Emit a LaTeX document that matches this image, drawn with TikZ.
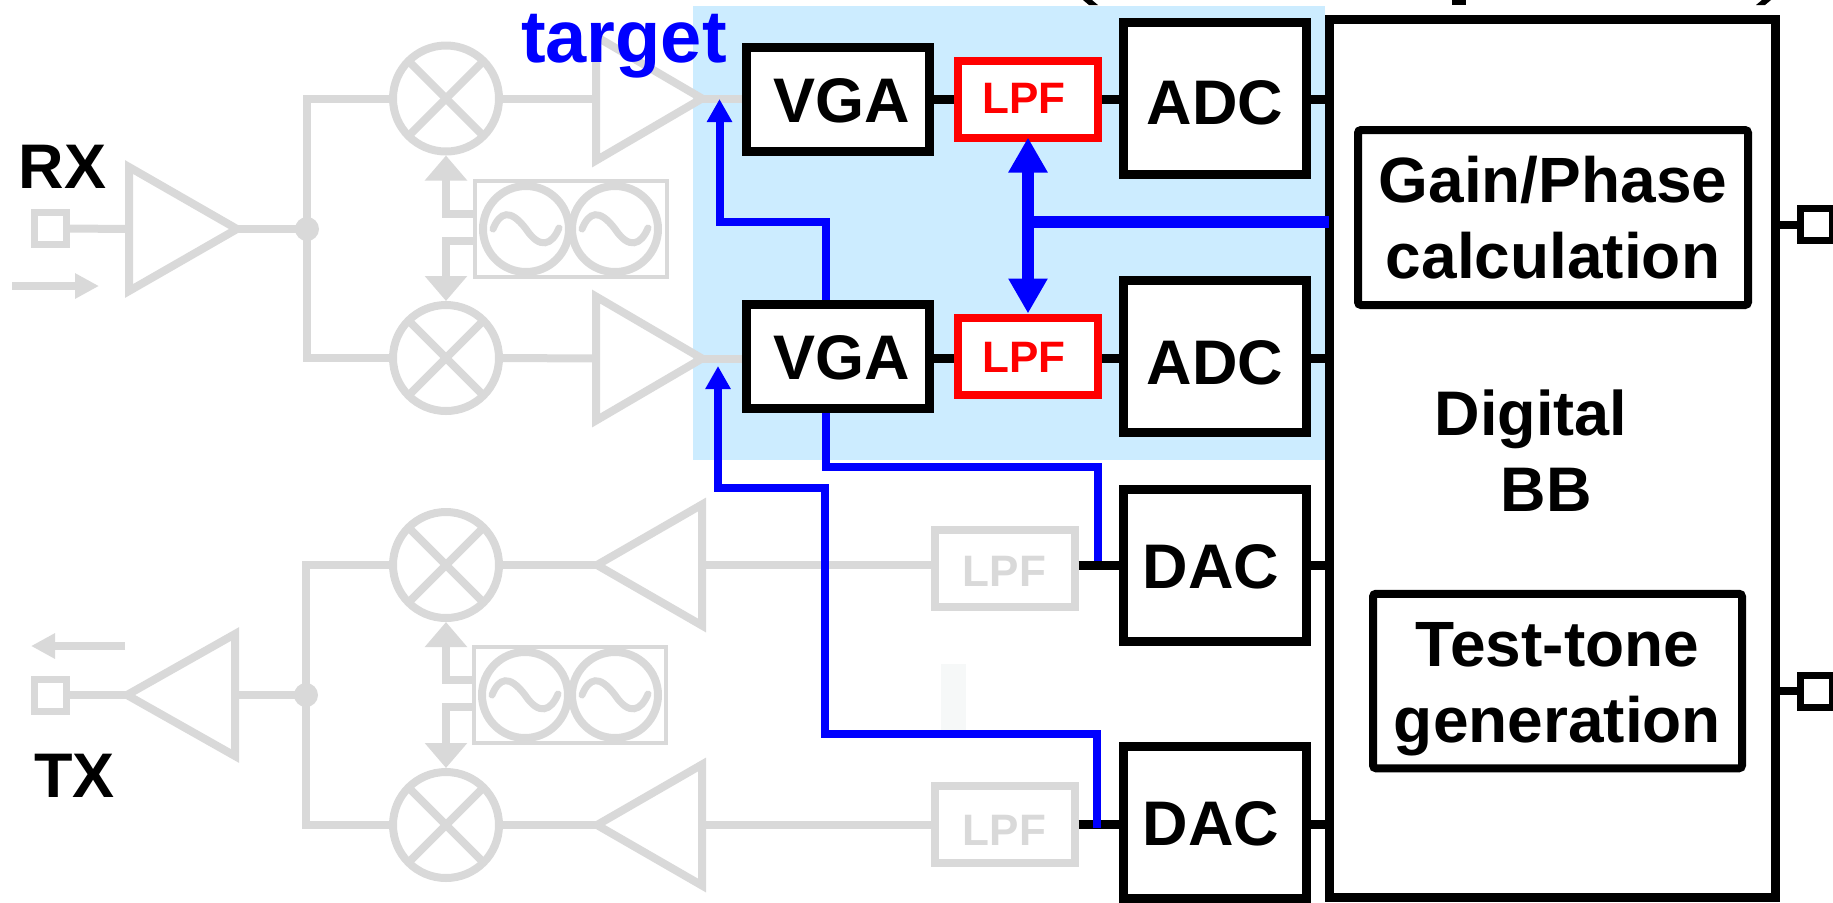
\documentclass[tikz,border=0pt]{standalone}
\usepackage{fontspec}
\setmainfont{Liberation Sans}
\usetikzlibrary{arrows.meta, shapes.geometric}
\definecolor{fadegray}{RGB}{217,217,217}
\definecolor{regionblue}{RGB}{204,236,255}
\definecolor{faintmark}{RGB}{246,248,248}

\begin{document}
\begin{tikzpicture}[x=0.5pt, y=-0.5pt,
    bigfont/.style={font=\fontsize{31.5}{38}\selectfont\bfseries},
    dspfont/.style={font=\fontsize{32}{38}\selectfont\bfseries},
    lpffont/.style={font=\fontsize{22}{26}\selectfont\bfseries},
    blockbox/.style={draw=black, fill=white, line width=4.5pt, inner sep=0pt, bigfont, text height=23pt, text depth=0pt},
    vgabox/.style={blockbox, minimum width=91.5pt, minimum height=52pt},
    cvtbox/.style={blockbox, minimum width=91.5pt, minimum height=76pt},
    lpfbox/.style={draw=red, text=red, fill=white, line width=4pt, inner sep=0pt, lpffont, minimum width=70pt, minimum height=38.5pt, text height=16pt, text depth=0pt},
    lpfgray/.style={lpfbox, draw=fadegray, text=fadegray},
    dspbox/.style={draw=black, fill=white, line width=4pt, rounded corners=1.5pt, inner sep=0pt, dspfont, align=center},
    padbox/.style={draw, fill=white, line width=3.5pt, inner sep=0pt, minimum size=16pt},
    graywire/.style={draw=fadegray, line width=4pt},
    blackwire/.style={draw=black, line width=4.5pt},
    ctrlwire/.style={draw=blue, line width=4pt},
    buswire/.style={draw=blue, line width=6pt},
    amp/.style={isosceles triangle, isosceles triangle stretches, draw=fadegray, line width=4pt, inner sep=0pt, outer sep=0pt, anchor=lower side},
    mixer/.style={circle, draw=fadegray, line width=4pt, inner sep=0pt, minimum size=53pt,
      path picture={\draw[graywire] (path picture bounding box.north west) -- (path picture bounding box.south east);
        \draw[graywire] (path picture bounding box.north east) -- (path picture bounding box.south west);}},
    losrc/.style={circle, draw=fadegray, line width=4pt, inner sep=0pt, minimum size=43pt},
    lobox/.style={draw=fadegray, line width=2pt, inner sep=0pt, minimum width=96pt, minimum height=48pt},
    sinewave/.style={draw=fadegray, line width=3.5pt, line cap=round},
    junction/.style={circle, fill=fadegray, inner sep=0pt, minimum size=12pt},
    lotip/.style={-{Triangle[length=12.5pt, width=20.5pt]}},
    dirtip/.style={-{Triangle[length=12pt, width=12pt]}},
    ctrltip/.style={-{Triangle[length=11.5pt, width=12pt]}},
    bustip/.style={{Triangle[length=17.5pt, width=18.5pt]}-{Triangle[length=17.5pt, width=18.5pt]}}]
  \useasboundingbox (0,0) rectangle (1833,902);
  \clip (0,0) rectangle (1833,902);

  % shaded analog part
  \fill[regionblue] (693,6) rectangle (1325,460);
  \fill[faintmark] (941,664) rectangle (966,730);

  % remains of a heading cut off at the top edge
  \fill[black] (1083,0) -- (1092,0) -- (1098,5) -- (1089,5) -- cycle;
  \fill[black] (1452,0) rectangle (1466,4.5);
  \fill[black] (1762,0) -- (1771,0) -- (1765,5) -- (1756,5) -- cycle;

  % RX chain
  \node[padbox, draw=fadegray] (padrx) at (50,228.5) {};
  \node[amp, minimum height=54pt, minimum width=62pt] (lna) at (129,229) {};
  \node[junction] (dotrx) at (307,229) {};
  \node[mixer] (mixrxi) at (446,98.5) {};
  \node[mixer] (mixrxq) at (446,358) {};
  \node[lobox] (lorx) at (571,228.5) {};
  \node[losrc] (lorxa) at (526,229) {};
  \node[losrc] (lorxb) at (615,229) {};
  \node[amp, minimum height=53pt, minimum width=62pt] (amprxi) at (596,98.5) {};
  \node[amp, minimum height=53pt, minimum width=62pt] (amprxq) at (596,358.5) {};
  \draw[graywire] (padrx.east) -- (lna.lower side);
  \draw[graywire] (lna.apex) -- (dotrx.center);
  \draw[graywire] (mixrxi.west) -| (dotrx.center);
  \draw[graywire] (mixrxq.west) -| (dotrx.center);
  \draw[graywire] (mixrxi.east) -- (amprxi.lower side);
  \draw[graywire] (mixrxq.east) -- (amprxq.lower side);
  \draw[graywire, lotip] ([yshift=7.5pt]lorx.west) -| (mixrxi.south);
  \draw[graywire, lotip] ([yshift=-6pt]lorx.west) -| (mixrxq.north);
  \draw[sinewave] (493,229) .. controls (500,212) and (510,208) .. (526,229) .. controls (540,250) and (552,245) .. (559,228);
  \draw[sinewave] (582,229) .. controls (589,212) and (599,208) .. (615,229) .. controls (629,250) and (641,245) .. (648,228);
  \coordinate (rxfrom) at (12,286);
  \coordinate (rxto) at (99,286);
  \draw[graywire, dirtip] (rxfrom) -- (rxto);

  % TX chain
  \node[padbox, draw=fadegray] (padtx) at (50,695) {};
  \node[amp, shape border rotate=180, minimum height=54pt, minimum width=61pt] (pa) at (235,695) {};
  \node[junction] (dottx) at (306,695) {};
  \node[mixer] (mixtxi) at (446,565) {};
  \node[mixer] (mixtxq) at (446,825) {};
  \node[lobox] (lotx) at (570,695) {};
  \node[losrc] (lotxa) at (525,695) {};
  \node[losrc] (lotxb) at (615,695) {};
  \node[amp, shape border rotate=180, minimum height=52.5pt, minimum width=60.5pt] (amptxi) at (702,565) {};
  \node[amp, shape border rotate=180, minimum height=52.5pt, minimum width=60.5pt] (amptxq) at (702,825) {};
  \node[lpfgray, text height=17.5pt] (lpftxi) at (1004.5,568.5) {LPF};
  \node[lpfgray, text height=20.5pt] (lpftxq) at (1004.5,824.5) {LPF};
  \draw[graywire] (padtx.east) -- (pa.apex);
  \draw[graywire] (pa.lower side) -- (dottx.center);
  \draw[graywire] (mixtxi.west) -| (dottx.center);
  \draw[graywire] (mixtxq.west) -| (dottx.center);
  \draw[graywire] (mixtxi.east) -- (amptxi.apex);
  \draw[graywire] (mixtxq.east) -- (amptxq.apex);
  \draw[graywire] (amptxi.lower side) -- (amptxi.lower side -| lpftxi.west);
  \draw[graywire] (amptxq.lower side) -- (amptxq.lower side -| lpftxq.west);
  \draw[graywire, lotip] ([yshift=7.5pt]lotx.west) -| (mixtxi.south);
  \draw[graywire, lotip] ([yshift=-6pt]lotx.west) -| (mixtxq.north);
  \draw[sinewave] (492,695) .. controls (499,678) and (509,674) .. (525,695) .. controls (539,716) and (551,711) .. (558,694);
  \draw[sinewave] (582,695) .. controls (589,678) and (599,674) .. (615,695) .. controls (629,716) and (641,711) .. (648,694);
  \coordinate (txfrom) at (125,646);
  \coordinate (txto) at (31,646);
  \draw[graywire, dirtip] (txfrom) -- (txto);

  % baseband blocks
  \node[vgabox] (vgai) at (838,99) {\hspace*{4pt}VGA};
  \node[vgabox] (vgaq) at (838,356) {\hspace*{4pt}VGA};
  \node[lpfbox, text height=14.5pt] (lpfi) at (1028,99) {LPF\hspace*{4pt}};
  \node[lpfbox] (lpfq) at (1028,356) {LPF\hspace*{4pt}};
  \node[cvtbox, text height=25.5pt] (adci) at (1215,98.5) {ADC};
  \node[cvtbox, text height=28pt] (adcq) at (1215,356.5) {ADC};
  \node[cvtbox] (daci) at (1215,565.5) {DAC\hspace*{4pt}};
  \node[cvtbox] (dacq) at (1215,822) {DAC\hspace*{4pt}};
  \node[draw=black, fill=white, line width=4.5pt, inner sep=0pt, minimum width=222.75pt, minimum height=439pt] (dbb) at (1552.25,458.5) {};
  \node[dspbox, minimum width=195pt, minimum height=87.5pt] (gainphase) at (1553,217.5) {Gain/Phase\\calculation};
  \node[dspbox, minimum width=184.5pt, minimum height=87.25pt] (testtone) at (1557.5,681) {\rule{0pt}{30pt}Test-tone\\generation};
  \node[bigfont, anchor=base] (digital) at (1531,435.5) {Digital};
  \node[bigfont, anchor=base] (bbtext) at (1546,511) {BB};
  \node[padbox] (padtop) at (1816,224.5) {};
  \node[padbox] (padbot) at (1816,691) {};

  \draw[graywire] (amprxi.apex) -- (amprxi.apex -| vgai.west);
  \draw[graywire] (amprxq.apex) -- (amprxq.apex -| vgaq.west);
  \draw[blackwire] (vgai.east) -- (lpfi.west);
  \draw[blackwire] (lpfi.east) -- (adci.west |- lpfi.east);
  \draw[blackwire] (adci.east |- lpfi.east) -- (dbb.west |- lpfi.east);
  \draw[blackwire] (amprxq.apex -| vgaq.east) -- (amprxq.apex -| lpfq.west);
  \draw[blackwire] (amprxq.apex -| lpfq.east) -- (amprxq.apex -| adcq.west);
  \draw[blackwire] (amprxq.apex -| adcq.east) -- (amprxq.apex -| dbb.west);
  \draw[blackwire] (lpftxi.east |- daci.west) -- (daci.west);
  \draw[blackwire] (daci.east) -- (daci.east -| dbb.west);
  \draw[blackwire] (lpftxq.east) -- (lpftxq.east -| dacq.west);
  \draw[blackwire] (lpftxq.east -| dacq.east) -- (lpftxq.east -| dbb.west);
  \draw[draw=black, line width=4pt] (dbb.east |- padtop.west) -- (padtop.west);
  \draw[draw=black, line width=4pt] (dbb.east |- padbot.west) -- (padbot.west);

  % calibration paths
  \coordinate (ctrli) at (719.5,99);
  \coordinate (ctrlibend) at (719.5,222);
  \coordinate (ctrlq) at (718,366);
  \coordinate (ctrlqbend) at (718,488);
  \coordinate (dacibend) at (1097.5,467);
  \coordinate (daciend) at (1097.5,561);
  \coordinate (dacqbend) at (825,734);
  \coordinate (dacqend) at (1097,828);
  \coordinate (busjoin) at (1028.5,222);
  \draw[ctrlwire, ctrltip] ([xshift=-6.25pt]vgaq.north) |- (ctrlibend) -- (ctrli);
  \draw[ctrlwire] ([xshift=-6.25pt]vgaq.south) |- (dacibend) -- (daciend);
  \draw[ctrlwire, ctrltip] (dacqend) |- (dacqbend) |- (ctrlqbend) -- (ctrlq);
  \draw[buswire, bustip] ([yshift=2pt]lpfi.south) -- (lpfq.north);
  \draw[buswire] (busjoin) -- ([xshift=2pt]busjoin -| dbb.west);

  % labels
  \node[bigfont, anchor=base] (rxlabel) at (62.5,188) {RX};
  \node[bigfont, anchor=base] (txlabel) at (74.5,797) {TX};
  \node[anchor=base, text=blue, font=\fontsize{37}{44}\selectfont\bfseries] (targetlabel) at (624,62) {target};
\end{tikzpicture}
\end{document}
